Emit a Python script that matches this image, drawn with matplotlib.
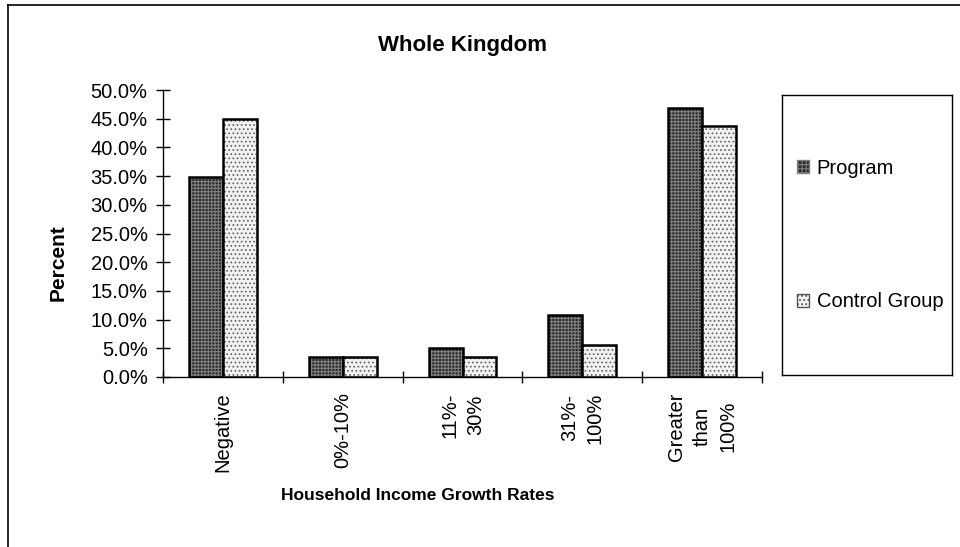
import numpy as np
import matplotlib
matplotlib.use("Agg")
import matplotlib.pyplot as plt
from matplotlib.patches import Patch
from matplotlib.lines import Line2D

plt.rcParams["font.family"] = ["Liberation Sans", "DejaVu Sans"]
plt.rcParams["hatch.linewidth"] = 0.8

categories = ["Negative", "0%-10%", "11%-\n30%", "31%-\n100%", "Greater\nthan\n100%"]
program = [34.8, 3.5, 5.0, 10.8, 46.9]
control = [44.9, 3.5, 3.5, 5.6, 43.7]
yticks = [0, 5, 10, 15, 20, 25, 30, 35, 40, 45, 50]

W, H = 960, 547
fig = plt.figure(figsize=(W / 100, H / 100), dpi=100)
ax = fig.add_axes([163 / W, 1 - 377 / H, (762 - 163) / W, (377 - 90) / H])

x = np.arange(len(categories))
bw = 0.283

# fills with hatching first, then plain black outlines on top
ax.bar(x, program, width=-bw, align="edge", color="#2a2a2a",
       edgecolor="#808080", hatch="+++++", linewidth=0)
ax.bar(x, program, width=-bw, align="edge", fill=False,
       edgecolor="black", linewidth=1.8)
ax.bar(x, control, width=bw, align="edge", color="#f2f2f2",
       edgecolor="#6a6a6a", hatch="....", linewidth=0)
ax.bar(x, control, width=bw, align="edge", fill=False,
       edgecolor="black", linewidth=1.8)

ax.set_xlim(-0.5, len(categories) - 0.5)
ax.set_ylim(0, 50)
ax.set_yticks(yticks)
ax.set_yticklabels([f"{v:.1f}%" for v in yticks])
ax.tick_params(axis="y", direction="inout", length=10, width=1,
               labelsize=14.5, pad=6)

# tick marks between groups, labels under group centres
ax.set_xticks(np.arange(len(categories) + 1) - 0.5)
ax.set_xticklabels([])
ax.tick_params(axis="x", which="major", direction="inout", length=9, width=1)
ax.set_xticks(x, minor=True)
ax.set_xticklabels(categories, minor=True, rotation=90, ha="center",
                   va="top", multialignment="center", fontsize=14.5,
                   linespacing=1.45)
ax.tick_params(axis="x", which="minor", length=0, pad=11)

for s in ("top", "right"):
    ax.spines[s].set_visible(False)
for s in ("left", "bottom"):
    ax.spines[s].set_linewidth(1.0)

fig.text(463 / W, 1 - 45 / H, "Whole Kingdom", ha="center", va="center",
         fontsize=16, fontweight="bold")
fig.text(58 / W, 1 - 263 / H, "Percent", ha="center", va="center",
         rotation=90, fontsize=15, fontweight="bold")
fig.text(418 / W, 1 - 495 / H, "Household Income Growth Rates", ha="center",
         va="center", fontsize=12.5, fontweight="bold")

# legend in its own framed box on the right
lax = fig.add_axes([782 / W, 1 - 375 / H, 170 / W, 280 / H])
lax.set_xticks([])
lax.set_yticks([])
for s in lax.spines.values():
    s.set_linewidth(1.0)
handles = [
    Patch(facecolor="#2a2a2a", edgecolor="#808080", hatch="++++", label="Program"),
    Patch(facecolor="#f2f2f2", edgecolor="#555555", hatch="....", label="Control Group"),
]
lax.legend(handles=handles, loc="center left", bbox_to_anchor=(-0.02, 0.5),
           frameon=False, fontsize=14.5, handlelength=0.6, handleheight=0.6,
           handletextpad=0.4, labelspacing=5.7)

# outer page edges
fig.add_artist(Line2D([8 / W, 8 / W], [0, 1 - 5 / H], color="black", lw=1.2))
fig.add_artist(Line2D([8 / W, 1], [1 - 5 / H, 1 - 5 / H], color="black", lw=1.2))

fig.savefig("out.png", dpi=100)
